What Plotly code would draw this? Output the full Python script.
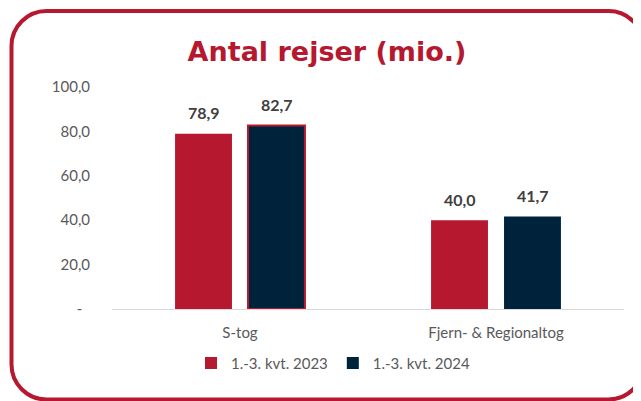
import plotly.graph_objects as go

categories = ["S-tog", "Fjern- & Regionaltog"]
series_names = ["1.-3. kvt. 2023", "1.-3. kvt. 2024"]
values_2023 = [78.9, 40.0]
values_2024 = [82.7, 41.7]
tick_vals = [0, 20, 40, 60, 80, 100]
tick_text = ["-\u00a0\u00a0", "20,0", "40,0", "60,0", "80,0", "100,0"]

RED = "#B5182F"
NAVY = "#00233C"
OFF = 8  # page body margin
W, H = 641 - OFF, 401 - OFF
# plot area in page pixels: x 112..624, y 87..309
ML, MT = 112 - OFF, 87 - OFF
MR = W - (624 - OFF)
MB = H - (309 - OFF)
PW, PH = W - ML - MR, H - MT - MB

fig = go.Figure()
fig.add_trace(go.Bar(x=categories, y=values_2023, name=series_names[0],
                     marker=dict(color=RED, line=dict(width=0))))
# points listed in reverse so the legend swatch (first point) has no outline
fig.add_trace(go.Bar(x=categories[::-1], y=values_2024[::-1], name=series_names[1],
                     marker=dict(color=NAVY, line=dict(color=[NAVY, RED], width=[0, 2]))))

# data labels
annots = []
for vals, shift in ((values_2023, -36.5), (values_2024, 36.5)):
    for c, v in zip(categories, vals):
        annots.append(dict(x=c, y=v, xref="x", yref="y", text=f"{v:.1f}".replace(".", ","),
                           showarrow=False, xshift=shift, yshift=21, yanchor="middle",
                           font=dict(family="Lato", size=16, color="#404040", weight="bold")))

# rounded border (page pixel -> paper)
def px(x):
    return (x - OFF - ML) / PW
def py(y):
    return (H - MB - (y - OFF)) / PH
def P(x, y):
    return f"{px(x):.5f},{py(y):.5f}"

x0, x1, y0, y1, r = 11.5, 643.5, 11.0, 399.5, 35.0
k = 0.5523 * r
path = (f"M {P(x0 + r, y0)} L {P(x1 - r, y0)} "
        f"C {P(x1 - r + k, y0)} {P(x1, y0 + r - k)} {P(x1, y0 + r)} "
        f"L {P(x1, y1 - r)} "
        f"C {P(x1, y1 - r + k)} {P(x1 - r + k, y1)} {P(x1 - r, y1)} "
        f"L {P(x0 + r, y1)} "
        f"C {P(x0 + r - k, y1)} {P(x0, y1 - r + k)} {P(x0, y1 - r)} "
        f"L {P(x0, y0 + r)} "
        f"C {P(x0, y0 + r - k)} {P(x0 + r - k, y0)} {P(x0 + r, y0)} Z")

fig.update_layout(
    width=W, height=H,
    margin=dict(l=ML, r=MR, t=MT, b=MB, autoexpand=False),
    paper_bgcolor="white", plot_bgcolor="white",
    separators=",.",
    barmode="group", bargap=0.43, bargroupgap=0.22,
    title=dict(text="<b>Antal rejser (mio.)</b>", x=(327 - OFF) / W, xanchor="center",
               y=1 - (52 - OFF) / H, yanchor="middle", yref="container",
               font=dict(family="DejaVu Sans", size=27, color=RED)),
    xaxis=dict(showline=True, linecolor="#D9D9D9", linewidth=1, ticks="",
               ticklabelstandoff=10, categoryorder="array", categoryarray=categories,
               tickfont=dict(family="Lato", size=15, color="#595959"),
               showgrid=False),
    yaxis=dict(range=[0, 100], tickvals=tick_vals, ticktext=tick_text,
               showgrid=False, zeroline=False, showline=False,
               ticklabelstandoff=21,
               tickfont=dict(family="Lato", size=15, color="#595959")),
    legend=dict(orientation="h", x=(333 - 112) / 512, xanchor="center",
                y=-0.17, yanchor="top",
                font=dict(family="Lato", size=15, color="#595959"),
                itemwidth=30, traceorder="normal"),
    annotations=annots,
    shapes=[dict(type="path", xref="paper", yref="paper", path=path,
                 line=dict(color=RED, width=4), fillcolor="rgba(0,0,0,0)")],
)

fig.write_html("out.html")
